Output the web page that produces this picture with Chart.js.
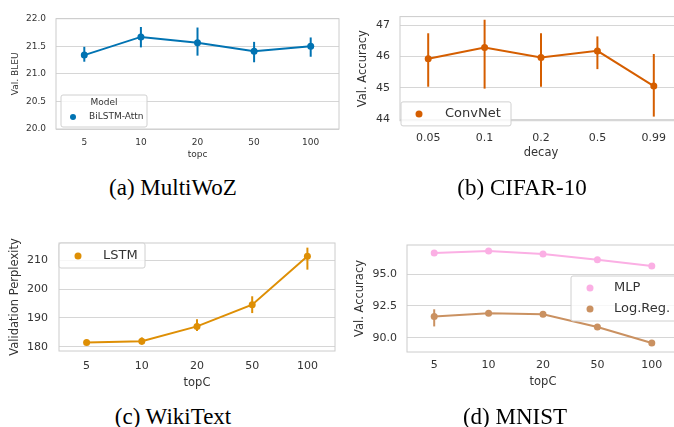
<!DOCTYPE html>
<html>
<head>
<meta charset="utf-8">
<script src="https://cdn.jsdelivr.net/npm/chart.js@4.4.1/dist/chart.umd.min.js"></script>
<style>
    body { margin: 0; width: 674px; height: 427px; overflow: hidden; background: #fff; position: relative; }
    canvas { position: absolute; }
    .cap { position: absolute; font-family: 'Liberation Serif', serif; font-size: 23px; color: #000; transform: translate(-50%, -50%); white-space: nowrap; }
</style>
</head>
<body>
<canvas id="chart-a" width="345" height="165" style="left:0;top:0"></canvas>
<canvas id="chart-b" width="350" height="165" style="left:340px;top:0"></canvas>
<canvas id="chart-c" width="345" height="185" style="left:0;top:210px"></canvas>
<canvas id="chart-d" width="350" height="185" style="left:340px;top:210px"></canvas>
<div class="cap" style="left:173px;top:188px">(a) MultiWoZ</div>
<div class="cap" style="left:522px;top:188px">(b) CIFAR-10</div>
<div class="cap" style="left:173px;top:417px">(c) WikiText</div>
<div class="cap" style="left:515px;top:417px">(d) MNIST</div>
<script>
// categories
const topcLabels = ['5', '10', '20', '50', '100'];
const decayLabels = ['0.05', '0.1', '0.2', '0.5', '0.99'];

// (a) MultiWoZ, BiLSTM-Attn
const bleuMean = [21.34, 21.67, 21.565, 21.41, 21.50];
const bleuLo = [21.22, 21.48, 21.33, 21.21, 21.31];
const bleuHi = [21.49, 21.85, 21.84, 21.58, 21.66];
const bleuTicks = [20.0, 20.5, 21.0, 21.5, 22.0];

// (b) CIFAR-10, ConvNet
const convMean = [45.93, 46.29, 45.97, 46.18, 45.06];
const convLo = [45.04, 44.98, 45.04, 45.60, 44.09];
const convHi = [46.74, 47.17, 46.74, 46.64, 46.08];
const accTicksB = [44, 45, 46, 47];

// (c) WikiText, LSTM
const lstmMean = [181.5, 182.0, 187.1, 194.6, 211.3];
const lstmLo = [180.8, 180.8, 185.5, 191.7, 206.7];
const lstmHi = [182.2, 183.3, 189.6, 197.5, 214.3];
const pplTicks = [180, 190, 200, 210];

// (d) MNIST, MLP and Log.Reg.
const mlpMean = [96.64, 96.80, 96.56, 96.12, 95.63];
const mlpLo = [96.55, 96.70, 96.47, 95.95, 95.40];
const mlpHi = [96.73, 96.90, 96.65, 96.30, 95.86];
const logregMean = [91.67, 91.93, 91.85, 90.86, 89.60];
const logregLo = [90.90, 91.85, 91.75, 90.65, 89.40];
const logregHi = [92.24, 92.02, 91.95, 91.07, 89.80];
const accTicksD = [90.0, 92.5, 95.0];

const FONT = 'DejaVu Sans';
const TEXT = '#333333';
const GRID = '#d6d6d6';

// vertical error bars from errLo / errHi of each dataset
const errorBars = {
    id: 'errorBars',
    beforeDatasetsDraw(chart) {
        const ctx = chart.ctx;
        const xs = chart.scales.x, ys = chart.scales.y;
        chart.data.datasets.forEach(function (ds) {
            if (!ds.errLo) return;
            ctx.save();
            ctx.strokeStyle = ds.borderColor;
            ctx.lineWidth = ds.errWidth || 2;
            for (let i = 0; i < ds.errLo.length; i++) {
                let x = xs.getPixelForValue(i);
                ctx.beginPath();
                ctx.moveTo(x, ys.getPixelForValue(ds.errLo[i]));
                ctx.lineTo(x, ys.getPixelForValue(ds.errHi[i]));
                ctx.stroke();
            }
            ctx.restore();
        });
    },
};

// light box round the plot area
const frame = {
    id: 'frame',
    beforeDatasetsDraw(chart) {
        const a = chart.chartArea, ctx = chart.ctx;
        ctx.save();
        ctx.strokeStyle = '#cccccc';
        ctx.lineWidth = 1;
        ctx.strokeRect(a.left, a.top, a.right - a.left, a.bottom - a.top);
        ctx.restore();
    },
};

// legend drawn inside the plot area, like matplotlib
function boxLegend(leg) {
    return {
        id: 'boxLegend',
        afterDatasetsDraw(chart) {
            const a = chart.chartArea, ctx = chart.ctx;
            let bx = a.left + leg.x, by = a.top + leg.y;
            ctx.save();
            ctx.fillStyle = 'rgba(255,255,255,0.8)';
            ctx.strokeStyle = '#d0d0d0';
            ctx.lineWidth = 1;
            ctx.beginPath();
            ctx.roundRect(bx, by, leg.w, leg.h, 2);
            ctx.fill();
            ctx.stroke();
            ctx.font = leg.size + 'px "' + FONT + '"';
            ctx.textBaseline = 'middle';
            ctx.fillStyle = TEXT;
            if (leg.title) {
                ctx.textAlign = 'center';
                ctx.fillText(leg.title, bx + leg.w / 2, by + leg.titleY);
            }
            ctx.textAlign = 'left';
            chart.data.datasets.forEach(function (ds, i) {
                let y = by + leg.rows[i];
                ctx.fillStyle = ds.borderColor;
                ctx.beginPath();
                ctx.arc(bx + leg.dotX, y, leg.dotR, 0, Math.PI * 2);
                ctx.fill();
                ctx.fillStyle = TEXT;
                ctx.fillText(ds.label, bx + leg.textX, y);
            });
            ctx.restore();
        },
    };
}

function series(label, color, mean, lo, hi) {
    return {
        label: label,
        data: mean,
        errLo: lo,
        errHi: hi,
        borderColor: color,
        backgroundColor: color,
        borderWidth: 2,
        pointRadius: 3.5,
        pointBorderWidth: 0,
        tension: 0,
    };
}

function makePanel(id, cfg) {
    return new Chart(document.getElementById(id).getContext('2d'), {
        type: 'line',
        data: { labels: cfg.labels, datasets: cfg.datasets },
        options: {
            responsive: false,
            animation: false,
            layout: { padding: { left: 0, top: cfg.padTop, right: cfg.padRight, bottom: 0 } },
            plugins: { legend: { display: false }, tooltip: { enabled: false } },
            scales: {
                x: {
                    offset: true,
                    grid: { display: false, drawTicks: false },
                    border: { display: false },
                    ticks: { color: TEXT, font: { family: FONT, size: cfg.tickSize }, padding: cfg.xTickPad, maxRotation: 0 },
                    title: { display: true, text: cfg.xTitle, color: TEXT, font: { family: FONT, size: cfg.titleSize }, padding: { top: 0, bottom: cfg.xTitlePad } },
                    afterFit: function (s) { s.height = cfg.xHeight; },
                },
                y: {
                    min: cfg.yMin,
                    max: cfg.yMax,
                    afterBuildTicks: function (s) { s.ticks = cfg.yTicks.map(v => ({ value: v })); },
                    grid: { color: GRID, lineWidth: 1, drawTicks: false },
                    border: { display: false },
                    ticks: {
                        color: TEXT,
                        font: { family: FONT, size: cfg.tickSize },
                        padding: cfg.yTickPad,
                        callback: function (v) { return cfg.yDigits ? Number(v).toFixed(cfg.yDigits) : String(v); },
                    },
                    title: { display: true, text: cfg.yTitle, color: TEXT, font: { family: FONT, size: cfg.titleSize }, padding: { top: cfg.yTitlePad, bottom: 0 } },
                    afterFit: function (s) { s.width = cfg.yWidth; },
                },
            },
        },
        plugins: [frame, errorBars, boxLegend(cfg.legend)],
    });
}

makePanel('chart-a', {
    labels: topcLabels,
    datasets: [series('BiLSTM-Attn', '#0173b2', bleuMean, bleuLo, bleuHi)],
    yMin: 20, yMax: 22, yTicks: bleuTicks, yDigits: 1,
    xTitle: 'topc', yTitle: 'Val. BLEU',
    tickSize: 9, titleSize: 9,
    padTop: 18.7, padRight: 6, yWidth: 56, xHeight: 36,
    xTickPad: 8, yTickPad: 10, xTitlePad: 4.6, yTitlePad: 10.6,
    legend: { x: 5, y: 76.3, w: 86, h: 32, size: 9, title: 'Model', titleY: 8, rows: [22], dotX: 12, dotR: 3, textX: 28 },
});

makePanel('chart-b', {
    labels: decayLabels,
    datasets: [series('ConvNet', '#d55e00', convMean, convLo, convHi)],
    yMin: 43.96, yMax: 47.27, yTicks: accTicksB, yDigits: 0,
    xTitle: 'decay', yTitle: 'Val. Accuracy',
    tickSize: 11, titleSize: 11.5,
    padTop: 11.7, padRight: 8, yWidth: 60, xHeight: 44.3,
    xTickPad: 10.5, yTickPad: 10, xTitlePad: 4.8, yTitlePad: 16.1,
    legend: { x: 1, y: 85.3, w: 110, h: 24, size: 13, rows: [12], dotX: 18, dotR: 3.5, textX: 44 },
});

makePanel('chart-c', {
    labels: topcLabels,
    datasets: [series('LSTM', '#de8f05', lstmMean, lstmLo, lstmHi)],
    yMin: 178.6, yMax: 215.9, yTicks: pplTicks, yDigits: 0,
    xTitle: 'topC', yTitle: 'Validation Perplexity',
    tickSize: 11, titleSize: 11.5,
    padTop: 33, padRight: 10, yWidth: 59, xHeight: 44,
    xTickPad: 9, yTickPad: 11, xTitlePad: 4.8, yTitlePad: 8.1,
    legend: { x: 0, y: 0, w: 86, h: 25, size: 13, rows: [13], dotX: 19, dotR: 3.5, textX: 44 },
});

makePanel('chart-d', {
    labels: topcLabels,
    datasets: [
        series('MLP', '#fbafe4', mlpMean, mlpLo, mlpHi),
        series('Log.Reg.', '#ca9161', logregMean, logregLo, logregHi),
    ],
    yMin: 88.9, yMax: 97.27, yTicks: accTicksD, yDigits: 1,
    xTitle: 'topC', yTitle: 'Val. Accuracy',
    tickSize: 11, titleSize: 11.5,
    padTop: 35, padRight: 11, yWidth: 67, xHeight: 43,
    xTickPad: 7, yTickPad: 10, xTitlePad: 5.8, yTitlePad: 13.1,
    legend: { x: 164, y: 31, w: 130, h: 45, size: 13, rows: [12, 33], dotX: 19, dotR: 3.5, textX: 43 },
});
</script>
</body>
</html>
